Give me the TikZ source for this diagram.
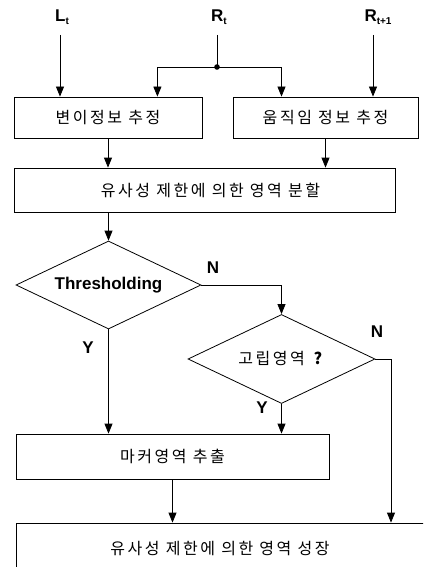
\documentclass[tikz,border=0pt]{standalone}
\usepackage{fontspec}
\setmainfont{Liberation Sans}
\newfontfamily\kr[LetterSpace=16]{Noto Sans CJK KR}
\usetikzlibrary{shapes.geometric,arrows.meta}
\tikzset{
  boxk/.style={draw,line width=0.8pt,rectangle,inner sep=0pt,font=\kr\fontsize{16}{18}\selectfont},
  dia/.style={draw,line width=0.8pt,diamond,inner sep=0pt,aspect=2.1},
  arr/.style={line width=0.8pt,-{Triangle[length=10pt,width=8pt]}},
  ln/.style={line width=0.8pt},
  lab/.style={font=\bfseries\fontsize{17}{19}\selectfont,inner sep=0pt}
}
\newcommand{\sbs}[1]{\raisebox{-3pt}{\fontsize{10}{10}\selectfont #1}}
\begin{document}
\begin{tikzpicture}[x=1pt,y=-1pt]
\path[use as bounding box] (0,0) rectangle (423,567);
\clip (0,0) rectangle (423,567);
\node[lab] (Lt) at (62,17) {L\sbs{t}};
\node[lab] (Rt) at (219,17) {R\sbs{t}};
\node[lab] (Rt1) at (378,17) {R\sbs{t+1}};
\coordinate (Lc) at (60,35);
\coordinate (Rc) at (217,35);
\coordinate (Rc1) at (373,35);
\node[boxk,minimum width=188pt,minimum height=41pt] (b1) at (108,117.5) {변이정보 추정};
\node[boxk,minimum width=185pt,minimum height=41pt] (b2) at (325.5,117.5) {움직임 정보 추정};
\node[boxk,minimum width=381pt,minimum height=44pt] (b3) at (204.5,190) {\hspace*{12pt}유사성 제한에 의한 영역 분할};
\node[dia,minimum width=185pt,minimum height=88pt,font=\bfseries\fontsize{17}{19}\selectfont] (d1) at (108.5,285) {Thresholding};
\node[dia,minimum width=187pt,minimum height=89pt,font=\kr\fontsize{16}{18}\selectfont] (d2) at (281.5,359) {고립영역 \textbf{?}};
\node[boxk,minimum width=313pt,minimum height=45pt] (b4) at (172.5,456.5) {마커영역 추출};
\node[boxk,minimum width=408pt,minimum height=52pt] (b5) at (220,549) {유사성 제한에 의한 영역 성장};
\node[lab] (N1) at (213,268) {N};
\node[lab] (N2) at (377,332) {N};
\node[lab] (Y1) at (88,348) {Y};
\node[lab] (Y2) at (262,408) {Y};
\coordinate (dot) at (217,67);
\coordinate (c1) at (391,359);
% connectors
\draw[arr] (Lc) -- (Lc |- b1.north);
\draw[ln] (Rc) -- (dot);
\fill (dot) circle (2.8pt);
\draw[arr] (dot) -| ([xshift=-45pt]b1.north east);
\draw[arr] (dot) -| ([xshift=-44pt]b2.north);
\draw[arr] (Rc1) -- (Rc1 |- b2.north);
\draw[arr] (b1.south) -- (b1.south |- b3.north);
\draw[arr] (b2.south) -- (b2.south |- b3.north);
\draw[arr] (b3.south -| d1.north) -- (d1.north);
\draw[arr] (d1.east) -| (d2.north);
\draw[arr] (d1.south) -- (d1.south |- b4.north);
\draw[arr] (d2.south) -- (d2.south |- b4.north);
\draw[ln] (d2.east) -- (c1);
\draw[arr] (c1) -- (c1 |- b5.north);
\draw[arr] (b4.south) -- (b4.south |- b5.north);
\end{tikzpicture}
\end{document}
